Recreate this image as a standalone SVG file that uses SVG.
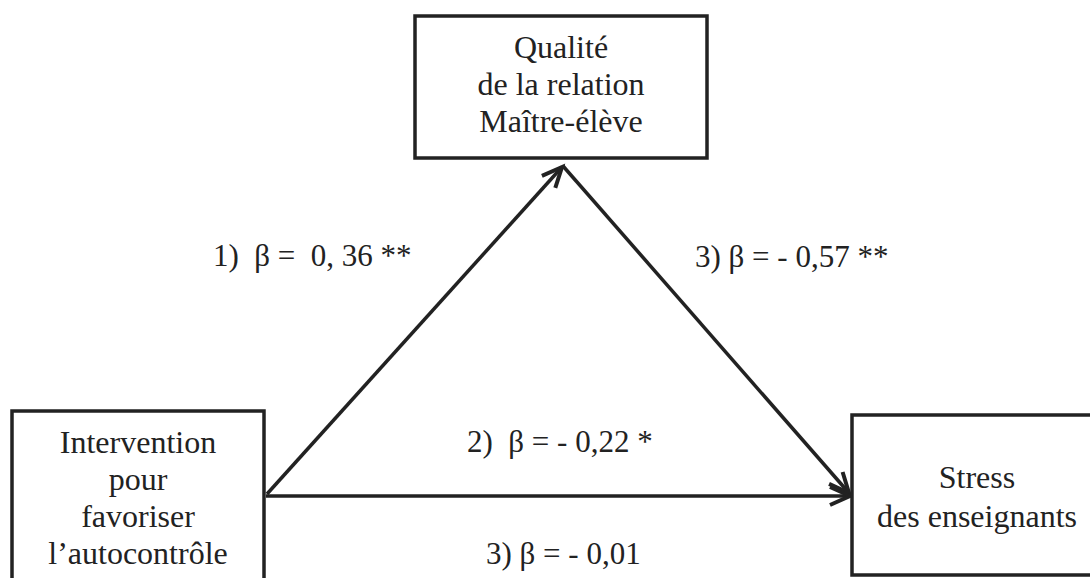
<svg xmlns="http://www.w3.org/2000/svg" width="1090" height="578" viewBox="0 0 1090 578">
<style>
.box{fill:#fff;stroke:#222;stroke-width:3.5}
.t{font-family:"Liberation Serif","Times New Roman",serif;font-size:32px;fill:#222;text-anchor:middle}
.l{font-family:"Liberation Serif","Times New Roman",serif;font-size:31px;fill:#222;white-space:pre}
.c{stroke:#222;stroke-width:3.5;fill:none}
</style>
<defs>
<marker id="arr" markerUnits="userSpaceOnUse" viewBox="-22 -12 26 24" refX="0" refY="0" markerWidth="26" markerHeight="24" orient="auto" overflow="visible">
<path d="M -20 -9 L 0 0 L -20 9" fill="none" stroke="#222" stroke-width="4" stroke-linejoin="miter"/>
</marker>
</defs>
<rect width="1090" height="578" fill="#fff"/>
<g id="connectors">
<line class="c" x1="267" y1="494" x2="562" y2="167" marker-end="url(#arr)"/>
<line class="c" x1="563" y1="166" x2="849" y2="493" marker-end="url(#arr)"/>
<line class="c" x1="266" y1="496" x2="850" y2="496" marker-end="url(#arr)"/>
</g>
<g id="node-qualite">
<rect class="box" x="415" y="16" width="292" height="142"/>
<text class="t" x="561" y="58">Qualité</text>
<text class="t" x="561" y="95">de la relation</text>
<text class="t" x="561" y="132">Maître-élève</text>
</g>
<g id="node-intervention">
<rect class="box" x="12" y="411" width="252" height="180"/>
<text class="t" x="138" y="453">Intervention</text>
<text class="t" x="138" y="490">pour</text>
<text class="t" x="138" y="527">favoriser</text>
<text class="t" x="138" y="564">l’autocontrôle</text>
</g>
<g id="node-stress">
<rect class="box" x="852" y="415" width="250" height="160"/>
<text class="t" x="977" y="488">Stress</text>
<text class="t" x="977" y="527">des enseignants</text>
</g>
<g id="labels">
<text class="l" x="213" y="266">1)  β =  0, 36 **</text>
<text class="l" x="695" y="267">3) β = - 0,57 **</text>
<text class="l" x="467" y="452">2)  β = - 0,22 *</text>
<text class="l" x="486" y="564">3) β = - 0,01</text>
</g>
</svg>
